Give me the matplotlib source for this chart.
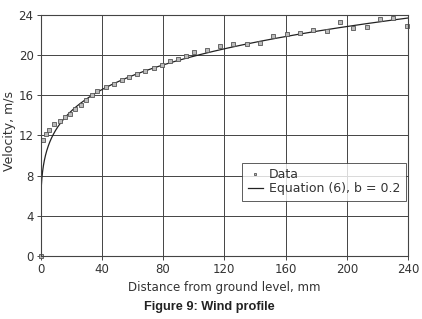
import numpy as np
import matplotlib
matplotlib.use('Agg')
import matplotlib.pyplot as plt

# measured wind profile (distance in mm, velocity in m/s)
dist = [0, 1.8, 3.6, 5.8, 9.0, 12.7, 16.2, 19.5, 22.7, 26.2, 29.7, 33.4, 36.9,
        42.5, 47.8, 53.0, 58.0, 63.2, 68.5, 73.8, 79.0, 84.4, 89.5, 94.8, 100.0,
        108.5, 117.3, 125.9, 134.6, 143.3, 152.0, 160.7, 169.4, 178.0, 186.8,
        195.5, 204.3, 213.0, 221.7, 230.4, 239.1]
vel = [0, 11.6, 12.1, 12.5, 13.1, 13.4, 13.8, 14.1, 14.6, 15.0, 15.5, 16.0, 16.4,
       16.8, 17.1, 17.5, 17.8, 18.1, 18.4, 18.7, 19.0, 19.4, 19.6, 19.9, 20.3,
       20.5, 20.9, 21.1, 21.1, 21.25, 21.9, 22.1, 22.2, 22.5, 22.4,
       23.3, 22.7, 22.8, 23.65, 23.7, 22.9]

# equation (6): u = U_ref * (z / z_ref) ** b
U_ref = 23.7
z_ref = 240.0
b = 0.2

xticks = [0, 40, 80, 120, 160, 200, 240]
yticks = [0, 4, 8, 12, 16, 20, 24]

fig = plt.figure(figsize=(4.22, 3.19), dpi=100)
ax = fig.add_axes([0.096, 0.1975, 0.871, 0.7555])

z = np.concatenate([[0], np.geomspace(1e-9, z_ref, 3000)])
ax.plot(z, U_ref * (z / z_ref) ** b, color='#222222', lw=0.9,
        label='Equation (6), b = 0.2')
ax.plot(dist, vel, ls='none', marker='s', ms=2.6, mfc='#bbbbbb', mec='#555555',
        mew=0.6, label='Data', clip_on=False)

ax.set_xlim(0, 240)
ax.set_ylim(0, 24)
ax.set_xticks(xticks)
ax.set_yticks(yticks)
ax.grid(True, color='#444444', lw=0.7)
for s in ax.spines.values():
    s.set_color('#444444')
    s.set_linewidth(0.8)
ax.tick_params(direction='out', length=3, width=0.7, colors='#444444',
               labelsize=8.5, labelcolor='#333333', pad=2)

ax.set_xlabel('Distance from ground level, mm', fontsize=8.6, color='#333333', labelpad=4)
ax.set_ylabel('Velocity, m/s', fontsize=9, color='#333333')
ax.yaxis.set_label_coords(-0.066, 0.52)

h, l = ax.get_legend_handles_labels()
leg = ax.legend(h[::-1], l[::-1], loc='lower right', bbox_to_anchor=(0.995, 0.228),
                borderaxespad=0, fontsize=9, frameon=True, fancybox=False,
                edgecolor='#333333', handlelength=1.2, handletextpad=0.5,
                borderpad=0.45, labelspacing=0.1, markerscale=0.8)
leg.get_frame().set_linewidth(0.7)
for t in leg.get_texts():
    t.set_color('#333333')

fig.text(0.495, 0.038, 'Figure 9: Wind profile', ha='center', va='center',
         fontsize=9.2, fontweight='bold', family='Liberation Sans', color='#222222')

fig.savefig('out.png', dpi=100)
